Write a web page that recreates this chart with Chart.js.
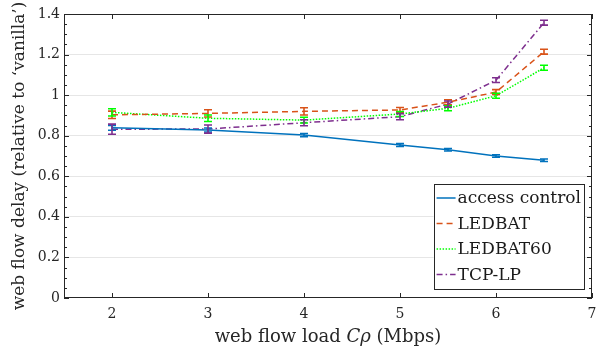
<!DOCTYPE html>
<html>
<head>
<meta charset="utf-8">
<script src="https://cdn.jsdelivr.net/npm/chart.js@4"></script>
<style>
  body { margin: 0; background: #fff; }
  canvas { display: block; }
</style>
</head>
<body>
<canvas id="grafico" width="611" height="350"></canvas>
<script>
// dados
const loads = [2, 3, 4, 5, 5.5, 6, 6.5];
const accessControl = [0.839, 0.828, 0.803, 0.754, 0.731, 0.700, 0.679];
const ledbat = [0.903, 0.910, 0.920, 0.927, 0.965, 1.015, 1.214];
const ledbat60 = [0.915, 0.886, 0.877, 0.907, 0.935, 0.997, 1.135];
const tcpLp = [0.832, 0.833, 0.864, 0.894, 0.956, 1.074, 1.357];

const accessErr = [0.012, 0.010, 0.008, 0.007, 0.006, 0.006, 0.006];
const ledbatErr = [0.018, 0.018, 0.018, 0.012, 0.012, 0.012, 0.012];
const ledbat60Err = [0.018, 0.016, 0.014, 0.012, 0.012, 0.012, 0.012];
const tcpLpErr = [0.025, 0.020, 0.015, 0.015, 0.015, 0.012, 0.012];

const xTicks = [2, 3, 4, 5, 6, 7];
const yTicks = [0, 0.2, 0.4, 0.6, 0.8, 1, 1.2, 1.4];

const fonte = "'DejaVu Serif', serif";

function pontos(ys) {
    return loads.map(function (x, i) { return { x: x, y: ys[i] }; });
}

function serie(label, ys, errs, cor, dash) {
    return {
        label: label,
        data: pontos(ys),
        errors: errs,
        borderColor: cor,
        backgroundColor: cor,
        borderWidth: 1.5,
        borderDash: dash,
        pointRadius: 0,
        tension: 0
    };
}

// barras de erro
const errorBars = {
    id: 'errorBars',
    afterDatasetsDraw(chart) {
        const ctx = chart.ctx;
        const yScale = chart.scales.y;
        chart.data.datasets.forEach(function (ds, i) {
            const meta = chart.getDatasetMeta(i);
            ctx.save();
            ctx.strokeStyle = ds.borderColor;
            ctx.lineWidth = 1.6;
            meta.data.forEach(function (pt, j) {
                const v = ds.data[j].y;
                const e = ds.errors[j];
                const yTop = yScale.getPixelForValue(v + e);
                const yBot = yScale.getPixelForValue(v - e);
                ctx.beginPath();
                ctx.moveTo(pt.x, yTop); ctx.lineTo(pt.x, yBot);
                ctx.moveTo(pt.x - 4, yTop); ctx.lineTo(pt.x + 4, yTop);
                ctx.moveTo(pt.x - 4, yBot); ctx.lineTo(pt.x + 4, yBot);
                ctx.stroke();
            });
            ctx.restore();
        });
    }
};

// caixa dos eixos, ticks para dentro, titulo x e legenda
const moldura = {
    id: 'moldura',
    afterDraw(chart) {
        const ctx = chart.ctx;
        const a = chart.chartArea;
        const xs = chart.scales.x, ys = chart.scales.y;
        ctx.save();
        ctx.strokeStyle = '#262626';
        ctx.lineWidth = 1;
        ctx.strokeRect(a.left + 0.5, a.top + 0.5, a.right - a.left - 1, a.bottom - a.top - 1);
        ctx.beginPath();
        xTicks.forEach(function (v) {
            const px = Math.round(xs.getPixelForValue(v)) + 0.5;
            ctx.moveTo(px, a.bottom); ctx.lineTo(px, a.bottom - 5);
            ctx.moveTo(px, a.top); ctx.lineTo(px, a.top + 5);
        });
        for (let k = 0; k <= 28; k++) {
            const py = Math.round(ys.getPixelForValue(k * 0.05)) + 0.5;
            const len = (k % 4 === 0) ? 5 : 3;
            ctx.moveTo(a.left, py); ctx.lineTo(a.left + len, py);
            ctx.moveTo(a.right, py); ctx.lineTo(a.right - len, py);
        }
        ctx.stroke();

        // titulo do eixo x com partes em italico
        const partes = [
            ['web flow load ', 'normal 18px ' + fonte],
            ['C\u03C1', 'italic 18px ' + fonte],
            [' (Mbps)', 'normal 18px ' + fonte]
        ];
        let total = 0;
        partes.forEach(function (p) { ctx.font = p[1]; total += ctx.measureText(p[0]).width; });
        let cx = (a.left + a.right) / 2 - total / 2;
        ctx.fillStyle = '#262626';
        ctx.textBaseline = 'middle';
        partes.forEach(function (p) {
            ctx.font = p[1];
            ctx.fillText(p[0], cx, 337);
            cx += ctx.measureText(p[0]).width;
        });

        // legenda dentro da area
        ctx.font = '17px ' + fonte;
        let maxW = 0;
        chart.data.datasets.forEach(function (ds) { maxW = Math.max(maxW, ctx.measureText(ds.label).width); });
        const amostra = 19, linha = 25.5;
        const w = 3 + amostra + 2 + maxW + 3;
        const h = linha * chart.data.datasets.length + 3;
        const bx = a.right - 8 - w, by = a.bottom - 9 - h;
        ctx.fillStyle = '#fff';
        ctx.fillRect(bx, by, w, h);
        ctx.strokeStyle = '#262626';
        ctx.strokeRect(Math.round(bx) + 0.5, Math.round(by) + 0.5, Math.round(w), Math.round(h));
        chart.data.datasets.forEach(function (ds, i) {
            const ly = by + 14 + i * linha;
            ctx.save();
            ctx.strokeStyle = ds.borderColor;
            ctx.lineWidth = 1.5;
            ctx.setLineDash(ds.borderDash || []);
            ctx.beginPath();
            ctx.moveTo(bx + 3, ly); ctx.lineTo(bx + 3 + amostra, ly);
            ctx.stroke();
            ctx.restore();
            ctx.fillStyle = '#1a1a1a';
            ctx.textBaseline = 'middle';
            ctx.fillText(ds.label, bx + 3 + amostra + 2, ly + 1);
        });
        ctx.restore();
    }
};

const ctx = document.getElementById('grafico').getContext('2d');
const grafico = new Chart(ctx, {
    type: 'line',
    data: {
        datasets: [
            serie('access control', accessControl, accessErr, '#0072BD', []),
            serie('LEDBAT', ledbat, ledbatErr, '#D95319', [6, 4]),
            serie('LEDBAT60', ledbat60, ledbat60Err, '#00FF00', [1.5, 1.5]),
            serie('TCP-LP', tcpLp, tcpLpErr, '#7E2F8E', [6, 3, 1.5, 3])
        ]
    },
    options: {
        responsive: false,
        animation: false,
        layout: { padding: { left: 0, right: 19, top: 14, bottom: 0 } },
        plugins: { legend: { display: false }, tooltip: { enabled: false } },
        scales: {
            x: {
                type: 'linear',
                min: 1.5,
                max: 7,
                afterBuildTicks: function (s) { s.ticks = xTicks.map(function (v) { return { value: v }; }); },
                afterFit: function (s) { s.height = 52; },
                grid: { display: false, drawTicks: false },
                border: { display: false },
                ticks: {
                    padding: 8,
                    color: '#262626',
                    font: { family: fonte, size: 14 },
                    maxRotation: 0
                }
            },
            y: {
                min: 0,
                max: 1.4,
                afterBuildTicks: function (s) { s.ticks = yTicks.map(function (v) { return { value: v }; }); },
                afterFit: function (s) { s.width = 64; },
                grid: {
                    drawTicks: false,
                    color: function (c) { return (c.tick.value === 0 || c.tick.value === 1.4) ? 'rgba(0,0,0,0)' : '#e6e6e6'; }
                },
                border: { display: false },
                title: {
                    display: true,
                    text: 'web flow delay (relative to \u2018vanilla\u2019)',
                    color: '#262626',
                    font: { family: fonte, size: 17 },
                    padding: { top: 9, bottom: 0 }
                },
                ticks: {
                    padding: 4,
                    color: '#262626',
                    font: { family: fonte, size: 14 },
                    callback: function (v) { return String(Math.round(v * 10) / 10); }
                }
            }
        }
    },
    plugins: [errorBars, moldura]
});
</script>
</body>
</html>
